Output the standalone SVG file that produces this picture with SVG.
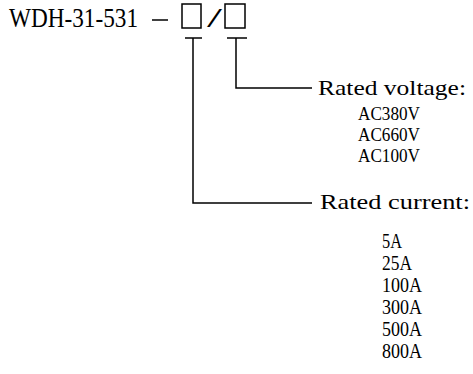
<svg xmlns="http://www.w3.org/2000/svg" width="473" height="374" viewBox="0 0 473 374">
<style>
text{font-family:"Liberation Serif","DejaVu Serif",serif;fill:#000}
.t{font-size:27px}
.s{font-size:21px}
.v{font-size:19px}
.ln{stroke:#000;stroke-width:1.5;fill:none}
</style>
<rect width="473" height="374" fill="#fff"/>
<g id="model">
<text class="t" x="9" y="27" textLength="129" lengthAdjust="spacingAndGlyphs">WDH-31-531</text>
<line class="ln" x1="152" y1="20" x2="168" y2="20"/>
<rect id="box1" class="ln" x="182" y="4" width="19" height="24"/>
<text class="t" x="207" y="27" textLength="15" lengthAdjust="spacingAndGlyphs">/</text>
<rect id="box2" class="ln" x="225" y="4" width="20" height="24"/>
</g>
<g id="connectors" class="ln">
<line x1="185" y1="38" x2="202" y2="38"/>
<polyline points="193,38 193,203 312,203"/>
<line x1="227" y1="38" x2="247" y2="38"/>
<polyline points="236,38 236,88 312,88"/>
</g>
<g id="voltage">
<text class="s" x="318" y="95" textLength="148" lengthAdjust="spacingAndGlyphs">Rated voltage:</text>
<text class="v" x="358" y="120" textLength="62" lengthAdjust="spacingAndGlyphs">AC380V</text>
<text class="v" x="358" y="141" textLength="62" lengthAdjust="spacingAndGlyphs">AC660V</text>
<text class="v" x="358" y="162" textLength="62" lengthAdjust="spacingAndGlyphs">AC100V</text>
</g>
<g id="current">
<text class="s" x="320" y="209" textLength="150" lengthAdjust="spacingAndGlyphs">Rated current:</text>
<text class="s" x="382" y="248" textLength="20" lengthAdjust="spacingAndGlyphs">5A</text>
<text class="s" x="382" y="270" textLength="30" lengthAdjust="spacingAndGlyphs">25A</text>
<text class="s" x="382" y="292" textLength="40" lengthAdjust="spacingAndGlyphs">100A</text>
<text class="s" x="382" y="314" textLength="40" lengthAdjust="spacingAndGlyphs">300A</text>
<text class="s" x="382" y="336" textLength="40" lengthAdjust="spacingAndGlyphs">500A</text>
<text class="s" x="382" y="358" textLength="40" lengthAdjust="spacingAndGlyphs">800A</text>
</g>
</svg>
